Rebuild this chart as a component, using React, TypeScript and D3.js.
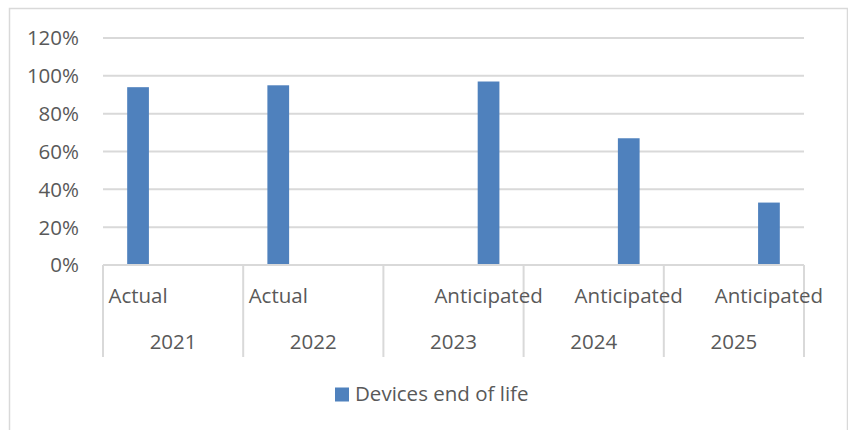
import * as d3 from 'd3';
import { useEffect, useRef } from 'react';

// Multi-level category axis: year on the outer level, status on the inner level
const years = ['2021', '2022', '2023', '2024', '2025'];
const statuses = ['Actual', 'Anticipated'];
const yearStatus = ['Actual', 'Actual', 'Anticipated', 'Anticipated', 'Anticipated'];
const devicesEndOfLife = [0.94, 0.95, 0.97, 0.67, 0.33];
const yTicks = [0, 0.2, 0.4, 0.6, 0.8, 1.0, 1.2];
const seriesName = 'Devices end of life';

const WIDTH = 848;
const HEIGHT = 430;
const BAR_COLOR = '#4f81bd';
const GRID_COLOR = '#d9d9d9';
const TEXT_COLOR = '#595959';
const FONT = '"Open Sans", "Noto Sans", sans-serif';

export default function App() {
  const svgRef = useRef<SVGSVGElement>(null);

  useEffect(() => {
    if (!svgRef.current) return;
    const svg = d3.select(svgRef.current);
    svg.selectAll('*').remove();

    const margin = { left: 103, right: 44, top: 38, bottom: 165 };
    const plotBottom = HEIGHT - margin.bottom;

    // Chart border
    svg
      .append('rect')
      .attr('x', 9.5)
      .attr('y', 8.5)
      .attr('width', 838)
      .attr('height', HEIGHT + 10)
      .attr('fill', 'white')
      .attr('stroke', GRID_COLOR)
      .attr('stroke-width', 1.5);

    const x = d3
      .scaleBand<string>()
      .domain(years)
      .range([margin.left, WIDTH - margin.right])
      .padding(0);

    const sub = d3
      .scaleBand<string>()
      .domain(statuses)
      .range([0, x.bandwidth()])
      .padding(0);

    const y = d3.scaleLinear().domain([0, 1.2]).range([plotBottom, margin.top]);

    // Gridlines
    svg
      .append('g')
      .selectAll('line')
      .data(yTicks.filter((t) => t > 0))
      .enter()
      .append('line')
      .attr('x1', margin.left)
      .attr('x2', WIDTH - margin.right)
      .attr('y1', (d) => y(d))
      .attr('y2', (d) => y(d))
      .attr('stroke', GRID_COLOR)
      .attr('stroke-width', 2);

    // Y tick labels
    svg
      .append('g')
      .selectAll('text')
      .data(yTicks)
      .enter()
      .append('text')
      .attr('x', 79)
      .attr('y', (d) => y(d))
      .attr('dy', '0.36em')
      .attr('text-anchor', 'end')
      .attr('fill', TEXT_COLOR)
      .style('font-family', FONT)
      .style('font-size', '20.5px')
      .text((d) => d3.format('.0%')(d));

    // Bars
    const barW = sub.bandwidth() * 0.31;
    svg
      .append('g')
      .selectAll('rect')
      .data(years)
      .enter()
      .append('rect')
      .attr('x', (d, i) => (x(d) ?? 0) + (sub(yearStatus[i]) ?? 0) + sub.bandwidth() / 2 - barW / 2)
      .attr('y', (_d, i) => y(devicesEndOfLife[i]))
      .attr('width', barW)
      .attr('height', (_d, i) => plotBottom - y(devicesEndOfLife[i]))
      .attr('fill', BAR_COLOR);

    // Category axis line and group separators
    const axis = svg.append('g');
    axis
      .append('line')
      .attr('x1', margin.left)
      .attr('x2', WIDTH - margin.right)
      .attr('y1', plotBottom)
      .attr('y2', plotBottom)
      .attr('stroke', GRID_COLOR)
      .attr('stroke-width', 2);

    const bounds = [...years.map((d) => x(d) ?? 0), WIDTH - margin.right];
    axis
      .selectAll('line.sep')
      .data(bounds)
      .enter()
      .append('line')
      .attr('class', 'sep')
      .attr('x1', (d) => d)
      .attr('x2', (d) => d)
      .attr('y1', plotBottom)
      .attr('y2', 357)
      .attr('stroke', GRID_COLOR)
      .attr('stroke-width', 2);

    // Inner-level labels
    axis
      .selectAll('text.status')
      .data(years)
      .enter()
      .append('text')
      .attr('class', 'status')
      .attr('x', (d, i) => (x(d) ?? 0) + (sub(yearStatus[i]) ?? 0) + sub.bandwidth() / 2)
      .attr('y', 303)
      .attr('text-anchor', 'middle')
      .attr('fill', TEXT_COLOR)
      .style('font-family', FONT)
      .style('font-size', '20.5px')
      .text((_d, i) => yearStatus[i]);

    // Outer-level labels
    axis
      .selectAll('text.year')
      .data(years)
      .enter()
      .append('text')
      .attr('class', 'year')
      .attr('x', (d) => (x(d) ?? 0) + x.bandwidth() / 2)
      .attr('y', 349)
      .attr('text-anchor', 'middle')
      .attr('fill', TEXT_COLOR)
      .style('font-family', FONT)
      .style('font-size', '20.5px')
      .text((d) => d);

    // Legend
    const legend = svg.append('g');
    legend
      .append('rect')
      .attr('x', 335)
      .attr('y', 387.5)
      .attr('width', 14)
      .attr('height', 14)
      .attr('fill', BAR_COLOR);
    legend
      .append('text')
      .attr('x', 355)
      .attr('y', 394)
      .attr('dy', '0.36em')
      .attr('fill', TEXT_COLOR)
      .style('font-family', FONT)
      .style('font-size', '20.5px')
      .text(seriesName);
  }, []);

  return (
    <svg
      ref={svgRef}
      width={WIDTH}
      height={HEIGHT}
      style={{ position: 'absolute', left: 0, top: 0, background: 'white' }}
    />
  );
}
